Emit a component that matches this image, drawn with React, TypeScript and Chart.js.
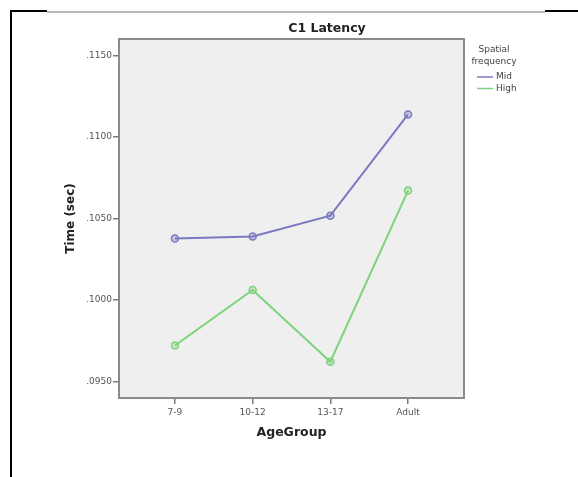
import React, { useEffect, useRef } from "react";
import { Chart, registerables } from "chart.js";

Chart.register(...registerables);

const categories = ["7-9", "10-12", "13-17", "Adult"];
const midValues = [0.10378, 0.1039, 0.10517, 0.11138];
const highValues = [0.09722, 0.10062, 0.09622, 0.10671];
const yTicks = [0.095, 0.1, 0.105, 0.11, 0.115];
const seriesNames = ["Mid", "High"];
const chartTitle = "C1 Latency";
const legendTitle = ["Spatial", "frequency"];
const xTitle = "AgeGroup";
const yTitle = "Time (sec)";

const MID_COLOR = "#7b79c2";
const HIGH_COLOR = "#7cd47c";
const FONT = "'DejaVu Sans', sans-serif";

const decorPlugin = {
  id: "decor",
  beforeDraw(chart: any) {
    const { ctx, chartArea } = chart;
    ctx.save();
    ctx.fillStyle = "#ffffff";
    ctx.fillRect(0, 0, chart.width, chart.height);
    // outer frame
    ctx.fillStyle = "#000000";
    ctx.fillRect(10, 10, 2, chart.height - 10);
    ctx.fillRect(10, 10, 37, 2);
    ctx.fillRect(545, 10, chart.width - 545, 2);
    ctx.fillStyle = "#b8b8b8";
    ctx.fillRect(47, 11, 498, 2);
    // plot background
    ctx.fillStyle = "#efefef";
    ctx.fillRect(chartArea.left, chartArea.top, chartArea.right - chartArea.left, chartArea.bottom - chartArea.top);
    ctx.restore();
  },
  beforeDatasetsDraw(chart: any) {
    const { ctx, chartArea } = chart;
    ctx.save();
    ctx.strokeStyle = "#8a8a8a";
    ctx.lineWidth = 2;
    ctx.strokeRect(chartArea.left, chartArea.top, chartArea.right - chartArea.left, chartArea.bottom - chartArea.top);
    ctx.restore();
  },
  afterDraw(chart: any) {
    const { ctx } = chart;
    ctx.save();
    // title
    ctx.fillStyle = "#222";
    ctx.font = `bold 12.5px ${FONT}`;
    ctx.textAlign = "center";
    ctx.textBaseline = "middle";
    ctx.fillText(chartTitle, 327, 29);
    // legend
    ctx.fillStyle = "#444";
    ctx.font = `9px ${FONT}`;
    ctx.fillText(legendTitle[0], 494, 50);
    ctx.fillText(legendTitle[1], 494, 62);
    chart.data.datasets.forEach((ds: any, i: number) => {
      const y = 77 + i * 11.5;
      ctx.strokeStyle = ds.borderColor;
      ctx.lineWidth = 1.5;
      ctx.beginPath();
      ctx.moveTo(477, y);
      ctx.lineTo(493, y);
      ctx.stroke();
      ctx.fillStyle = "#444";
      ctx.textAlign = "left";
      ctx.fillText(ds.label, 496, y);
    });
    ctx.restore();
  },
};

export default function App() {
  const ref = useRef<HTMLCanvasElement | null>(null);
  useEffect(() => {
    if (!ref.current) return;
    const mk = (vals: number[]) => vals.map((v, i) => ({ x: i, y: v }));
    const chart = new Chart(ref.current, {
      type: "line",
      data: {
        datasets: [
          {
            label: seriesNames[0],
            data: mk(midValues),
            borderColor: MID_COLOR,
            backgroundColor: "rgba(123,121,194,0.35)",
            pointBackgroundColor: "rgba(123,121,194,0.35)",
            pointBorderColor: MID_COLOR,
            pointRadius: 3.5,
            pointBorderWidth: 1.5,
            borderWidth: 2,
            tension: 0,
          },
          {
            label: seriesNames[1],
            data: mk(highValues),
            borderColor: HIGH_COLOR,
            backgroundColor: "rgba(124,212,124,0.35)",
            pointBackgroundColor: "rgba(124,212,124,0.35)",
            pointBorderColor: HIGH_COLOR,
            pointRadius: 3.5,
            pointBorderWidth: 1.5,
            borderWidth: 2,
            tension: 0,
          },
        ],
      },
      options: {
        responsive: false,
        animation: false,
        devicePixelRatio: 1,
        layout: { padding: { left: 64, right: 114, top: 39, bottom: 37 } },
        plugins: { legend: { display: false }, title: { display: false }, tooltip: { enabled: false } },
        scales: {
          x: {
            type: "linear",
            min: -0.72,
            max: 3.72,
            afterBuildTicks: (s: any) => {
              s.ticks = categories.map((_, i) => ({ value: i }));
            },
            afterFit: (s: any) => {
              s.height = 42;
            },
            ticks: {
              autoSkip: false,
              maxRotation: 0,
              padding: 3,
              color: "#555",
              font: { family: FONT, size: 9 },
              callback: (v: any) => categories[v] ?? "",
            },
            grid: { drawOnChartArea: false, drawTicks: true, tickLength: 6, color: "#7a7a7a", lineWidth: 1.5 },
            border: { display: false },
            title: {
              display: true,
              text: xTitle,
              color: "#222",
              font: { family: FONT, size: 12.5, weight: "bold" },
              padding: 0,
            },
          },
          y: {
            type: "linear",
            min: 0.094,
            max: 0.116,
            afterBuildTicks: (s: any) => {
              s.ticks = yTicks.map((v) => ({ value: v }));
            },
            afterFit: (s: any) => {
              s.width = 55;
            },
            ticks: {
              padding: 1,
              color: "#555",
              font: { family: FONT, size: 9 },
              callback: (v: any) => "." + Number(v).toFixed(4).split(".")[1],
            },
            grid: { drawOnChartArea: false, drawTicks: true, tickLength: 6, color: "#7a7a7a", lineWidth: 1.5 },
            border: { display: false },
            title: {
              display: true,
              text: yTitle,
              color: "#222",
              font: { family: FONT, size: 12, weight: "bold" },
              padding: 0,
            },
          },
        },
      },
      plugins: [decorPlugin],
    } as any);
    return () => chart.destroy();
  }, []);
  return (
    <div style={{ position: "absolute", left: 0, top: 0, width: 578, height: 477 }}>
      <canvas ref={ref} width={578} height={477} style={{ width: 578, height: 477, display: "block" }} />
    </div>
  );
}
